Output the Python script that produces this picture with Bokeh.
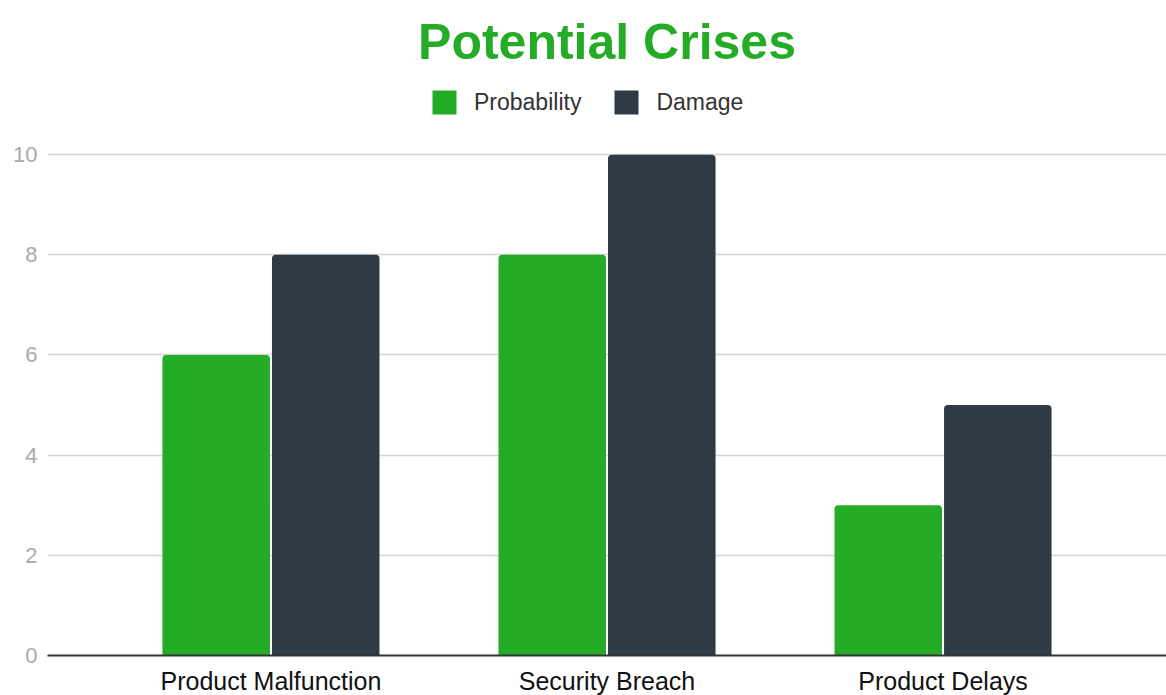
from bokeh.plotting import figure
from bokeh.models import ColumnDataSource, Range1d, FactorRange, Legend, LegendItem, FixedTicker, Title
from bokeh.transform import dodge
from bokeh.embed import file_html
from bokeh.resources import INLINE

categories = ["Product Malfunction", "Security Breach", "Product Delays"]
probability = [6, 8, 3]
damage = [8, 10, 5]
y_ticks = [0, 2, 4, 6, 8, 10]

GREEN = "#25AC27"
DARK = "#2E3B44"
FONT = "Liberation Sans"

src = ColumnDataSource(dict(cat=categories, prob=probability, dmg=damage))

p = figure(frame_width=1119, frame_height=580, output_backend="svg", toolbar_location=None,
           x_range=FactorRange(*categories, range_padding=0.165, range_padding_units="absolute"),
           y_range=Range1d(0, 11.58),
           min_border_left=47, min_border_right=0, min_border_bottom=40, min_border_top=75)
p.outline_line_color = None

r1 = p.vbar(x=dodge("cat", -0.163, range=p.x_range), top="prob", width=0.32, source=src,
            fill_color=GREEN, line_color=None, border_radius=(4, 4, 0, 0))
r2 = p.vbar(x=dodge("cat", 0.163, range=p.x_range), top="dmg", width=0.32, source=src,
            fill_color=DARK, line_color=None, border_radius=(4, 4, 0, 0))

p.xgrid.grid_line_color = None
p.ygrid.grid_line_color = "#D3D3D3"
p.ygrid.grid_line_width = 1.5
p.yaxis.ticker = FixedTicker(ticks=y_ticks)
p.yaxis.axis_line_color = None
p.yaxis.major_tick_line_color = None
p.yaxis.minor_tick_line_color = None
p.yaxis.major_label_text_color = "#AAAAAA"
p.yaxis.major_label_text_font = FONT
p.yaxis.major_label_text_font_size = "22px"
p.yaxis.major_label_standoff = 4

p.xaxis.axis_line_color = "#333333"
p.xaxis.axis_line_width = 2
p.xaxis.major_tick_line_color = None
p.xaxis.minor_tick_line_color = None
p.xaxis.major_label_text_color = "#111111"
p.xaxis.major_label_text_font = FONT
p.xaxis.major_label_text_font_size = "25px"
p.xaxis.major_label_standoff = 5

legend = Legend(items=[LegendItem(label="Probability", renderers=[r1]),
                       LegendItem(label="Damage", renderers=[r2])],
                orientation="horizontal", location=(382, 538),
                glyph_width=30, glyph_height=30, label_standoff=15, spacing=30,
                label_text_font=FONT, label_text_font_size="23px", label_text_color="#333333",
                border_line_color=None, background_fill_alpha=0, padding=0, margin=0)
p.add_layout(legend, "center")

p.title = Title(text="Potential Crises", align="center", vertical_align="top",
                text_font=FONT, text_font_size="50px",
                text_font_style="bold", text_color=GREEN, standoff=8)

open("out.html", "w").write(file_html(p, INLINE))
